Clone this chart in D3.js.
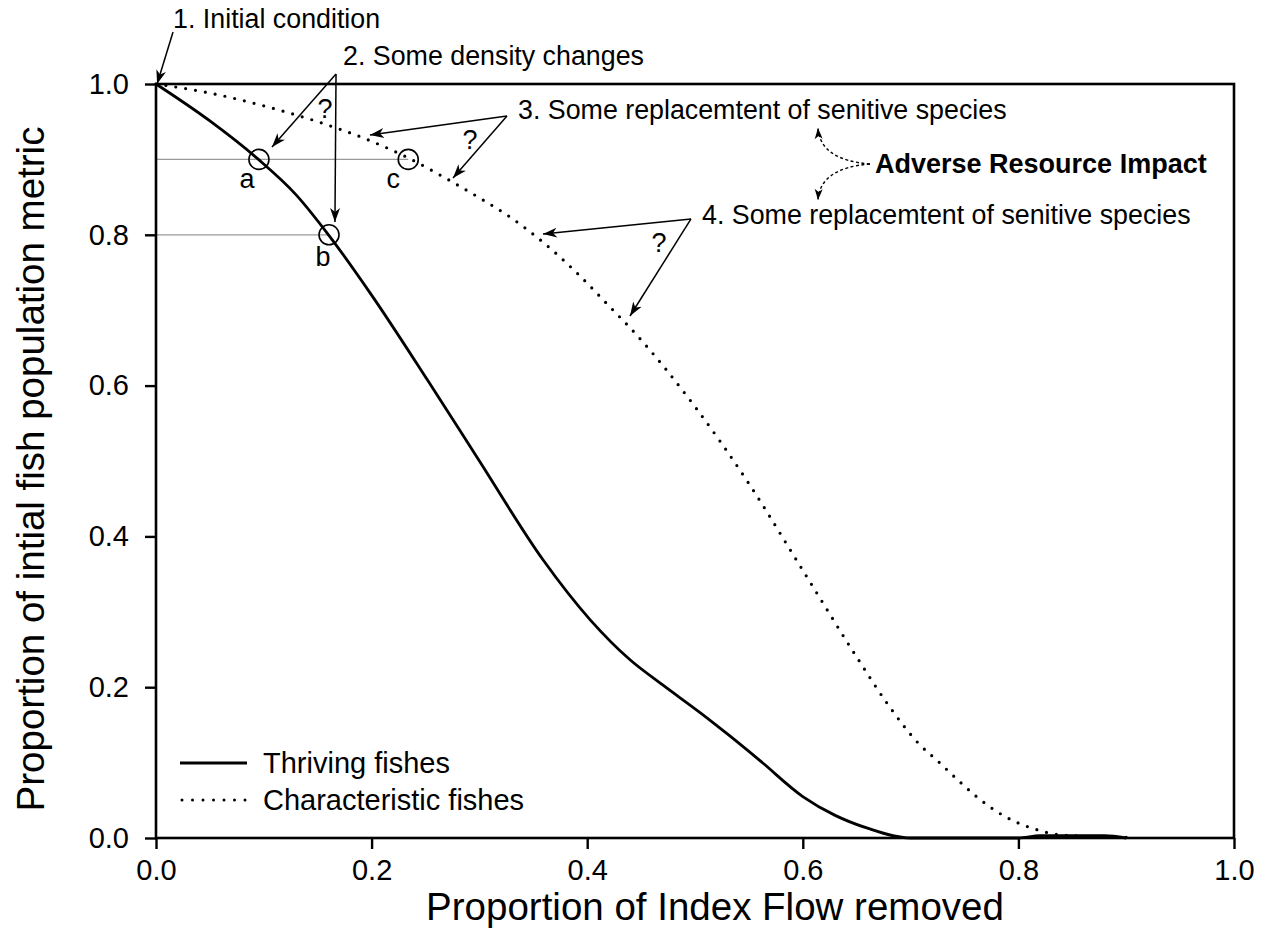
<!DOCTYPE html>
<html>
<head>
<meta charset="utf-8">
<script src="https://cdn.jsdelivr.net/npm/d3@7"></script>
<style>
  html, body { margin: 0; padding: 0; background: #fff; }
  svg { display: block; font-family: "Liberation Sans", Arial, sans-serif; }
</style>
</head>
<body>
<svg id="chart" width="1267" height="951"></svg>
<script>
// ---- Data ----
const thrivingX = [0, 0.05, 0.095, 0.13, 0.16, 0.2, 0.252, 0.3, 0.359, 0.403, 0.44, 0.47, 0.505, 0.53, 0.56, 0.6, 0.63, 0.66, 0.7, 0.8, 0.82, 0.88, 0.9];
const thrivingY = [1.0, 0.951, 0.9, 0.853, 0.8, 0.72, 0.607, 0.50, 0.369, 0.289, 0.236, 0.203, 0.166, 0.138, 0.103, 0.055, 0.03, 0.013, 0.0, 0.0, 0.003, 0.003, 0.0];

const characteristicX = [0, 0.05, 0.1, 0.15, 0.2, 0.234, 0.27, 0.3, 0.33, 0.36, 0.39, 0.42, 0.446, 0.5, 0.55, 0.6, 0.65, 0.68, 0.707, 0.726, 0.743, 0.761, 0.779, 0.798, 0.815, 0.834, 0.851, 0.9];
const characteristicY = [1.0, 0.988, 0.971, 0.95, 0.924, 0.902, 0.874, 0.849, 0.822, 0.789, 0.75, 0.706, 0.667, 0.572, 0.47, 0.355, 0.24, 0.175, 0.126, 0.101, 0.078, 0.055, 0.036, 0.021, 0.012, 0.005, 0.003, 0.001];

const xTicks = [0, 0.2, 0.4, 0.6, 0.8, 1.0];
const yTicks = [0, 0.2, 0.4, 0.6, 0.8, 1.0];

const seriesNames = ["Thriving fishes", "Characteristic fishes"];

// marked points a, b, c
const pointLabels = ["a", "b", "c"];
const pointX = [0.0955, 0.1605, 0.234];
const pointY = [0.9, 0.8, 0.9];

// annotations (data coordinates)
const annotTexts = ["1. Initial condition", "2. Some density changes", "3. Some replacemtent of senitive species", "4. Some replacemtent of senitive species"];
const annotTextX = [0.0158, 0.1735, 0.3358, 0.5065];
const annotTextY = [1.0743, 1.0252, 0.9536, 0.8143];
// arrows: [startX, startY, endX, endY]
const arrows = [
  [0.0158, 1.069, 0.001, 1.0],
  [0.167, 1.0133, 0.1076, 0.9164],
  [0.167, 1.0133, 0.166, 0.817],
  [0.3256, 0.9576, 0.1985, 0.9324],
  [0.3256, 0.9576, 0.2755, 0.8753],
  [0.4963, 0.821, 0.359, 0.801],
  [0.4963, 0.821, 0.4397, 0.6923]
];
const questionX = [0.1568, 0.2913, 0.4666];
const questionY = [0.955, 0.9138, 0.7772];

const impactText = "Adverse Resource Impact";
const impactX = 0.667, impactY = 0.882;

// ---- Layout ----
const svg = d3.select("#chart");
const margin = {left: 156, right: 1267 - 1234, top: 84, bottom: 951 - 838};
const W = 1267, H = 951;

const x = d3.scaleLinear().domain([0, 1]).range([margin.left, W - margin.right]);
const y = d3.scaleLinear().domain([0, 1]).range([H - margin.bottom, margin.top]);

svg.append("rect").attr("width", W).attr("height", H).attr("fill", "#fff");

const defs = svg.append("defs");
defs.append("marker")
  .attr("id", "arr").attr("markerUnits", "userSpaceOnUse")
  .attr("viewBox", "-14 -6 16 12").attr("refX", 0).attr("refY", 0)
  .attr("markerWidth", 16).attr("markerHeight", 12).attr("orient", "auto")
  .append("path").attr("d", "M0,0 L-14,-5 L-10,0 L-14,5 Z").attr("fill", "#000");
defs.append("marker")
  .attr("id", "arrSmall").attr("markerUnits", "userSpaceOnUse")
  .attr("viewBox", "-12 -5 14 10").attr("refX", 0).attr("refY", 0)
  .attr("markerWidth", 14).attr("markerHeight", 10).attr("orient", "auto")
  .append("path").attr("d", "M0,0 L-11,-4 L-8,0 L-11,4 Z").attr("fill", "#000");

// reference gray lines
svg.append("line")
  .attr("x1", x(0)).attr("x2", x(pointX[2])).attr("y1", y(pointY[0])).attr("y2", y(pointY[0]))
  .attr("stroke", "#999").attr("stroke-width", 1.3);
svg.append("line")
  .attr("x1", x(0)).attr("x2", x(pointX[1])).attr("y1", y(pointY[1])).attr("y2", y(pointY[1]))
  .attr("stroke", "#999").attr("stroke-width", 1.3);

// curves
const line = d3.line().x(d => x(d[0])).y(d => y(d[1])).curve(d3.curveMonotoneX);
const thriving = thrivingX.map((v, i) => [v, thrivingY[i]]);
const characteristic = characteristicX.map((v, i) => [v, characteristicY[i]]);

svg.append("path").datum(thriving).attr("d", line)
  .attr("fill", "none").attr("stroke", "#000").attr("stroke-width", 2.8).attr("stroke-linejoin", "round");
svg.append("path").datum(characteristic).attr("d", line)
  .attr("fill", "none").attr("stroke", "#000").attr("stroke-width", 3.2)
  .attr("stroke-dasharray", "0 10").attr("stroke-linecap", "round");

// circles a,b,c
svg.selectAll("circle.pt").data(pointX).join("circle")
  .attr("class", "pt")
  .attr("cx", (d) => x(d)).attr("cy", (d, i) => y(pointY[i])).attr("r", 10)
  .attr("fill", "none").attr("stroke", "#000").attr("stroke-width", 1.6);
const labelDx = [-12, -6, -15];
const labelDy = [29, 31, 29];
svg.selectAll("text.pl").data(pointLabels).join("text")
  .attr("class", "pl")
  .attr("x", (d, i) => x(pointX[i]) + labelDx[i]).attr("y", (d, i) => y(pointY[i]) + labelDy[i])
  .attr("text-anchor", "middle").attr("font-size", 27).text(d => d);

// frame
svg.append("rect")
  .attr("x", x(0)).attr("y", y(1)).attr("width", x(1) - x(0)).attr("height", y(0) - y(1))
  .attr("fill", "none").attr("stroke", "#000").attr("stroke-width", 2.6);

// axes
const fmt = d3.format(".1f");
const xAxis = svg.append("g").attr("transform", `translate(0,${y(0)})`)
  .call(d3.axisBottom(x).tickValues(xTicks).tickFormat(fmt).tickSize(11).tickPadding(10));
const yAxis = svg.append("g").attr("transform", `translate(${x(0)},0)`)
  .call(d3.axisLeft(y).tickValues(yTicks).tickFormat(fmt).tickSize(11).tickPadding(16));
[xAxis, yAxis].forEach(g => {
  g.select(".domain").remove();
  g.selectAll(".tick line").attr("stroke", "#000").attr("stroke-width", 2.4);
  g.selectAll(".tick text").attr("fill", "#000").attr("font-size", 29)
    .attr("font-family", "'Liberation Sans', Arial, sans-serif");
});

// axis titles
svg.append("text")
  .attr("x", (x(0) + x(1)) / 2 + 20).attr("y", 920)
  .attr("text-anchor", "middle").attr("font-size", 38.5)
  .text("Proportion of Index Flow removed");
svg.append("text")
  .attr("transform", `translate(44,${(y(0) + y(1)) / 2 + 8}) rotate(-90)`)
  .attr("text-anchor", "middle").attr("font-size", 38.5)
  .text("Proportion of intial fish population metric");

// annotation texts
svg.selectAll("text.an").data(annotTexts).join("text")
  .attr("class", "an")
  .attr("x", (d, i) => x(annotTextX[i])).attr("y", (d, i) => y(annotTextY[i]))
  .attr("font-size", 26.8).text(d => d);

// arrows
svg.selectAll("line.arrow").data(arrows).join("line")
  .attr("class", "arrow")
  .attr("x1", d => x(d[0])).attr("y1", d => y(d[1]))
  .attr("x2", d => x(d[2])).attr("y2", d => y(d[3]))
  .attr("stroke", "#000").attr("stroke-width", 1.5)
  .attr("marker-end", "url(#arr)");

// question marks
svg.selectAll("text.q").data(questionX).join("text")
  .attr("class", "q")
  .attr("x", d => x(d)).attr("y", (d, i) => y(questionY[i]))
  .attr("text-anchor", "middle").attr("font-size", 27).text("?");

// Adverse resource impact
svg.append("text")
  .attr("x", x(impactX)).attr("y", y(impactY))
  .attr("font-size", 27).attr("font-weight", "bold").text(impactText);
const sx = x(0.6623), sy = y(0.8939);
const ux = x(0.6141), uy = y(0.9416), dy2 = y(0.8462);
svg.append("path")
  .attr("d", `M${sx},${sy} Q${ux + 2},${sy - 4} ${ux},${uy}`)
  .attr("fill", "none").attr("stroke", "#000").attr("stroke-width", 1.4)
  .attr("stroke-dasharray", "3 2.5").attr("marker-end", "url(#arrSmall)");
svg.append("path")
  .attr("d", `M${sx},${sy} Q${ux + 2},${sy + 4} ${ux},${dy2}`)
  .attr("fill", "none").attr("stroke", "#000").attr("stroke-width", 1.4)
  .attr("stroke-dasharray", "3 2.5").attr("marker-end", "url(#arrSmall)");

// legend
const legendY = [763, 800];
const legendG = svg.append("g");
legendG.append("line").attr("x1", 180).attr("x2", 247).attr("y1", legendY[0]).attr("y2", legendY[0])
  .attr("stroke", "#000").attr("stroke-width", 2.8);
legendG.append("line").attr("x1", 182).attr("x2", 247).attr("y1", legendY[1]).attr("y2", legendY[1])
  .attr("stroke", "#000").attr("stroke-width", 3).attr("stroke-dasharray", "0 10.5").attr("stroke-linecap", "round");
legendG.selectAll("text").data(seriesNames).join("text")
  .attr("x", 263).attr("y", (d, i) => legendY[i] + 10)
  .attr("font-size", 29).text(d => d);
</script>
</body>
</html>
